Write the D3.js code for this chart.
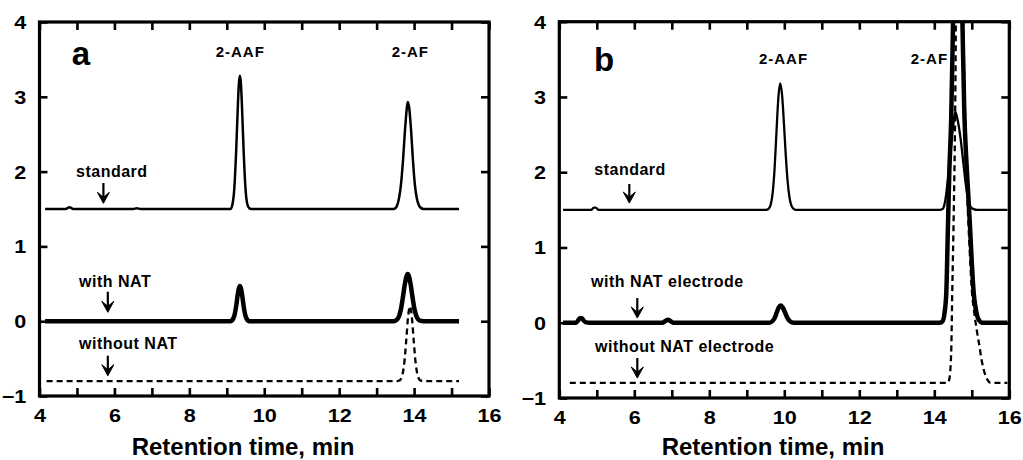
<!DOCTYPE html>
<html><head><meta charset="utf-8">
<script src="https://cdn.jsdelivr.net/npm/d3@7"></script>
<style>
html,body{margin:0;padding:0;background:#fff;}
svg{display:block;}
text{font-family:"Liberation Sans",Arial,sans-serif;font-weight:bold;fill:#000;}
</style></head>
<body>
<svg id="chart" width="1023" height="460"></svg>
<script>
// ---- data (retention time [min], signal) ----
const xTicks = [4,5,6,7,8,9,10,11,12,13,14,15,16];
const xTickLabels = [4,6,8,10,12,14,16];
const yTicks = [-1,0,1,2,3,4];
const axisTitle = "Retention time, min";

const aStandard = [[4.15,1.5],[4.7,1.5],[4.8,1.525],[4.9,1.5],[6.5,1.5],[6.6,1.51],[6.7,1.5],[9.1,1.5],[9.15,1.56],[9.2,1.77],[9.25,2.27],[9.3,2.94],[9.325,3.19],[9.35,3.28],[9.375,3.19],[9.4,2.94],[9.45,2.27],[9.5,1.77],[9.55,1.56],[9.6,1.51],[9.65,1.5],[13.45,1.5],[13.5,1.51],[13.55,1.55],[13.6,1.65],[13.65,1.83],[13.7,2.12],[13.75,2.5],[13.8,2.82],[13.83,2.93],[13.87,2.85],[13.92,2.55],[13.97,2.15],[14.02,1.83],[14.07,1.65],[14.12,1.56],[14.17,1.52],[14.25,1.5],[15.2,1.5]];
const aWithNAT = [[4.15,0],[9.1,0],[9.15,0.016],[9.2,0.07],[9.25,0.2],[9.3,0.38],[9.35,0.47],[9.4,0.38],[9.45,0.2],[9.5,0.07],[9.55,0.016],[9.6,0],[13.45,0],[13.5,0.007],[13.55,0.025],[13.6,0.07],[13.65,0.164],[13.7,0.315],[13.75,0.485],[13.8,0.605],[13.83,0.63],[13.86,0.605],[13.91,0.485],[13.96,0.315],[14.01,0.164],[14.06,0.07],[14.11,0.025],[14.16,0.007],[14.25,0],[15.2,0]];
const aWithoutNAT = [[4.19,-0.8],[13.55,-0.8],[13.59,-0.796],[13.64,-0.779],[13.69,-0.715],[13.74,-0.55],[13.79,-0.26],[13.84,0.06],[13.89,0.2],[13.94,0.06],[13.99,-0.26],[14.04,-0.55],[14.09,-0.715],[14.14,-0.779],[14.19,-0.796],[14.3,-0.8],[15.2,-0.8]];

const bStandard = [[4.1,1.5],[4.85,1.5],[4.92,1.53],[4.97,1.53],[5.05,1.5],[9.5,1.5],[9.54,1.502],[9.59,1.518],[9.64,1.574],[9.69,1.727],[9.74,2.04],[9.79,2.52],[9.84,2.98],[9.89,3.18],[9.94,3.03],[9.99,2.65],[10.04,2.22],[10.09,1.87],[10.14,1.66],[10.19,1.555],[10.24,1.517],[10.3,1.5],[14.15,1.5],[14.22,1.51],[14.26,1.55],[14.3,1.65],[14.35,1.85],[14.4,2.1],[14.45,2.35],[14.5,2.6],[14.56,2.8],[14.62,2.7],[14.7,2.45],[14.78,2.1],[14.85,1.8],[14.92,1.6],[14.98,1.53],[15.05,1.51],[15.15,1.5],[15.95,1.5]];
const bWithNAT = [[4.1,0],[4.45,0],[4.5,0.03],[4.55,0.06],[4.6,0.06],[4.65,0.03],[4.72,0.005],[4.8,0],[6.75,0],[6.82,0.02],[6.9,0.04],[6.97,0.02],[7.05,0],[9.6,0],[9.68,0.02],[9.74,0.06],[9.8,0.14],[9.85,0.2],[9.9,0.23],[9.95,0.21],[10.0,0.16],[10.05,0.1],[10.1,0.05],[10.15,0.02],[10.25,0],[14.15,0],[14.22,0.02],[14.27,0.12],[14.32,0.4],[14.36,1.2],[14.4,2.0],[14.45,2.7],[14.5,4.0],[14.55,5.5],[14.62,6.5],[14.7,5.2],[14.75,4.0],[14.8,2.8],[14.85,2.2],[14.9,1.75],[14.95,1.3],[15.0,0.8],[15.05,0.4],[15.1,0.2],[15.15,0.08],[15.2,0.03],[15.27,0],[15.95,0]];
const bWithoutNAT = [[4.28,-0.8],[14.35,-0.8],[14.4,-0.75],[14.45,-0.4],[14.48,0.44],[14.52,1.5],[14.56,3.0],[14.6,6],[14.67,8],[14.74,5],[14.77,4],[14.82,2.8],[14.88,1.7],[14.94,1.0],[15.0,0.44],[15.07,0.12],[15.13,-0.09],[15.2,-0.3],[15.26,-0.49],[15.35,-0.68],[15.42,-0.76],[15.5,-0.8],[15.95,-0.8]];

// annotations: [text, x, y] in data units; arrows: [x, yFrom, yTo]
const aLetter = ["a", 4.86, 3.425];
const bLetter = ["b", 4.925, 3.348];
const aPeakLabels = [["2-AAF", 9.36, 3.536],["2-AF", 13.9, 3.536]];
const bPeakLabels = [["2-AAF", 9.98, 3.44],["2-AF", 13.87, 3.44]];
const aTraceLabels = [["standard", 4.976, 1.929],["with NAT", 5.056, 0.461],["without NAT", 5.056, -0.376]];
const bTraceLabels = [["standard", 4.933, 1.962],["with NAT electrode", 4.845, 0.474],["without NAT electrode", 4.952, -0.389]];
const aArrows = [[5.706,1.848,1.576],[5.824,0.394,0.119],[5.824,-0.461,-0.729]];
const bArrows = [[5.867,1.843,1.59],[6.08,0.328,0.062],[6.08,-0.469,-0.735]];

// ---- drawing ----
const svg = d3.select("#chart");

function panel(cfg){
  const x = d3.scaleLinear().domain([4,16]).range([cfg.x0, cfg.x1]);
  const y = d3.scaleLinear().domain([-1,4]).range([cfg.y0, cfg.y1]);
  const g = svg.append("g");
  const clipId = "clip" + cfg.id;
  svg.append("defs").append("clipPath").attr("id", clipId)
    .append("rect").attr("x", cfg.x0).attr("y", cfg.y1).attr("width", cfg.x1-cfg.x0).attr("height", cfg.y0-cfg.y1);

  const line = d3.line().x(d=>x(d[0])).y(d=>y(d[1])).curve(d3.curveMonotoneX);
  const lg = g.append("g").attr("clip-path", `url(#${clipId})`);
  lg.append("path").datum(cfg.without).attr("d", line).attr("fill","none").attr("stroke","#000")
    .attr("stroke-width",2.3).attr("stroke-dasharray","6,4");
  lg.append("path").datum(cfg.standard).attr("d", line).attr("fill","none").attr("stroke","#000")
    .attr("stroke-width",cfg.thin).attr("stroke-linejoin","round");
  lg.append("path").datum(cfg.withN).attr("d", line).attr("fill","none").attr("stroke","#000")
    .attr("stroke-width",4.5).attr("stroke-linejoin","round");

  // axes (inward ticks)
  const bottom = g.append("g").attr("transform",`translate(0,${cfg.y0})`)
    .call(d3.axisBottom(x).tickValues(xTicks).tickSize(-8).tickFormat(d => xTickLabels.includes(d) ? d : ""));
  bottom.selectAll("text").attr("y", 26).attr("dy", null).style("font-size","18px")
    .attr("transform","scale(1.2,1)");
  const top = g.append("g").attr("transform",`translate(0,${cfg.y1})`)
    .call(d3.axisTop(x).tickValues(xTicks).tickSize(-8).tickFormat(""));
  const left = g.append("g").attr("transform",`translate(${cfg.x0},0)`)
    .call(d3.axisLeft(y).tickValues(yTicks).tickSize(-8).tickFormat(d3.format("d")));
  left.selectAll("text").attr("x", -11).attr("dy","0.36em").style("font-size","18px")
    .attr("transform","scale(1.2,1)");
  const right = g.append("g").attr("transform",`translate(${cfg.x1},0)`)
    .call(d3.axisRight(y).tickValues(yTicks).tickSize(-8).tickFormat(""));
  [bottom, top, left, right].forEach(a => {
    a.select(".domain").remove();
    a.selectAll("line").attr("stroke","#000").attr("stroke-width",2.6);
    a.selectAll("text").attr("font-family",null).attr("fill","#000");
  });
  g.append("rect").attr("x",cfg.x0).attr("y",cfg.y1).attr("width",cfg.x1-cfg.x0).attr("height",cfg.y0-cfg.y1)
    .attr("fill","none").attr("stroke","#000").attr("stroke-width",3.2);

  // texts
  g.append("text").attr("x", x(cfg.letter[1])).attr("y", y(cfg.letter[2])).style("font-size","33px").text(cfg.letter[0]);
  cfg.peaks.forEach(p => g.append("text").attr("x", x(p[1])).attr("y", y(p[2])).attr("text-anchor","middle")
    .style("font-size","15px").style("letter-spacing","1px").text(p[0]));
  cfg.traces.forEach(p => g.append("text").attr("x", x(p[1])).attr("y", y(p[2]))
    .style("font-size","16px").style("letter-spacing","0.5px").text(p[0]));
  cfg.arrows.forEach(a => {
    const ax = x(a[0]), y1 = y(a[1]), y2 = y(a[2]);
    g.append("line").attr("x1",ax).attr("x2",ax).attr("y1",y1).attr("y2",y2-2).attr("stroke","#000").attr("stroke-width",2.2);
    g.append("path").attr("d",`M${ax-6},${y2-11} L${ax},${y2} L${ax+6},${y2-11} L${ax},${y2-6} Z`).attr("fill","#000")
      .attr("stroke","#000").attr("stroke-width",1).attr("stroke-linejoin","round");
  });
  g.append("text").attr("x", cfg.titleX).attr("y", 455).attr("text-anchor","middle").style("font-size","24px").text(axisTitle);
}

panel({id:"a", x0:39.5, x1:489, y0:396, y1:22, thin:2.5,
  standard:aStandard, withN:aWithNAT, without:aWithoutNAT,
  letter:aLetter, peaks:aPeakLabels, traces:aTraceLabels, arrows:aArrows, titleX:243});
panel({id:"b", x0:559.3, x1:1009.3, y0:398, y1:21.7, thin:2.3,
  standard:bStandard, withN:bWithNAT, without:bWithoutNAT,
  letter:bLetter, peaks:bPeakLabels, traces:bTraceLabels, arrows:bArrows, titleX:773});
</script>
</body></html>
